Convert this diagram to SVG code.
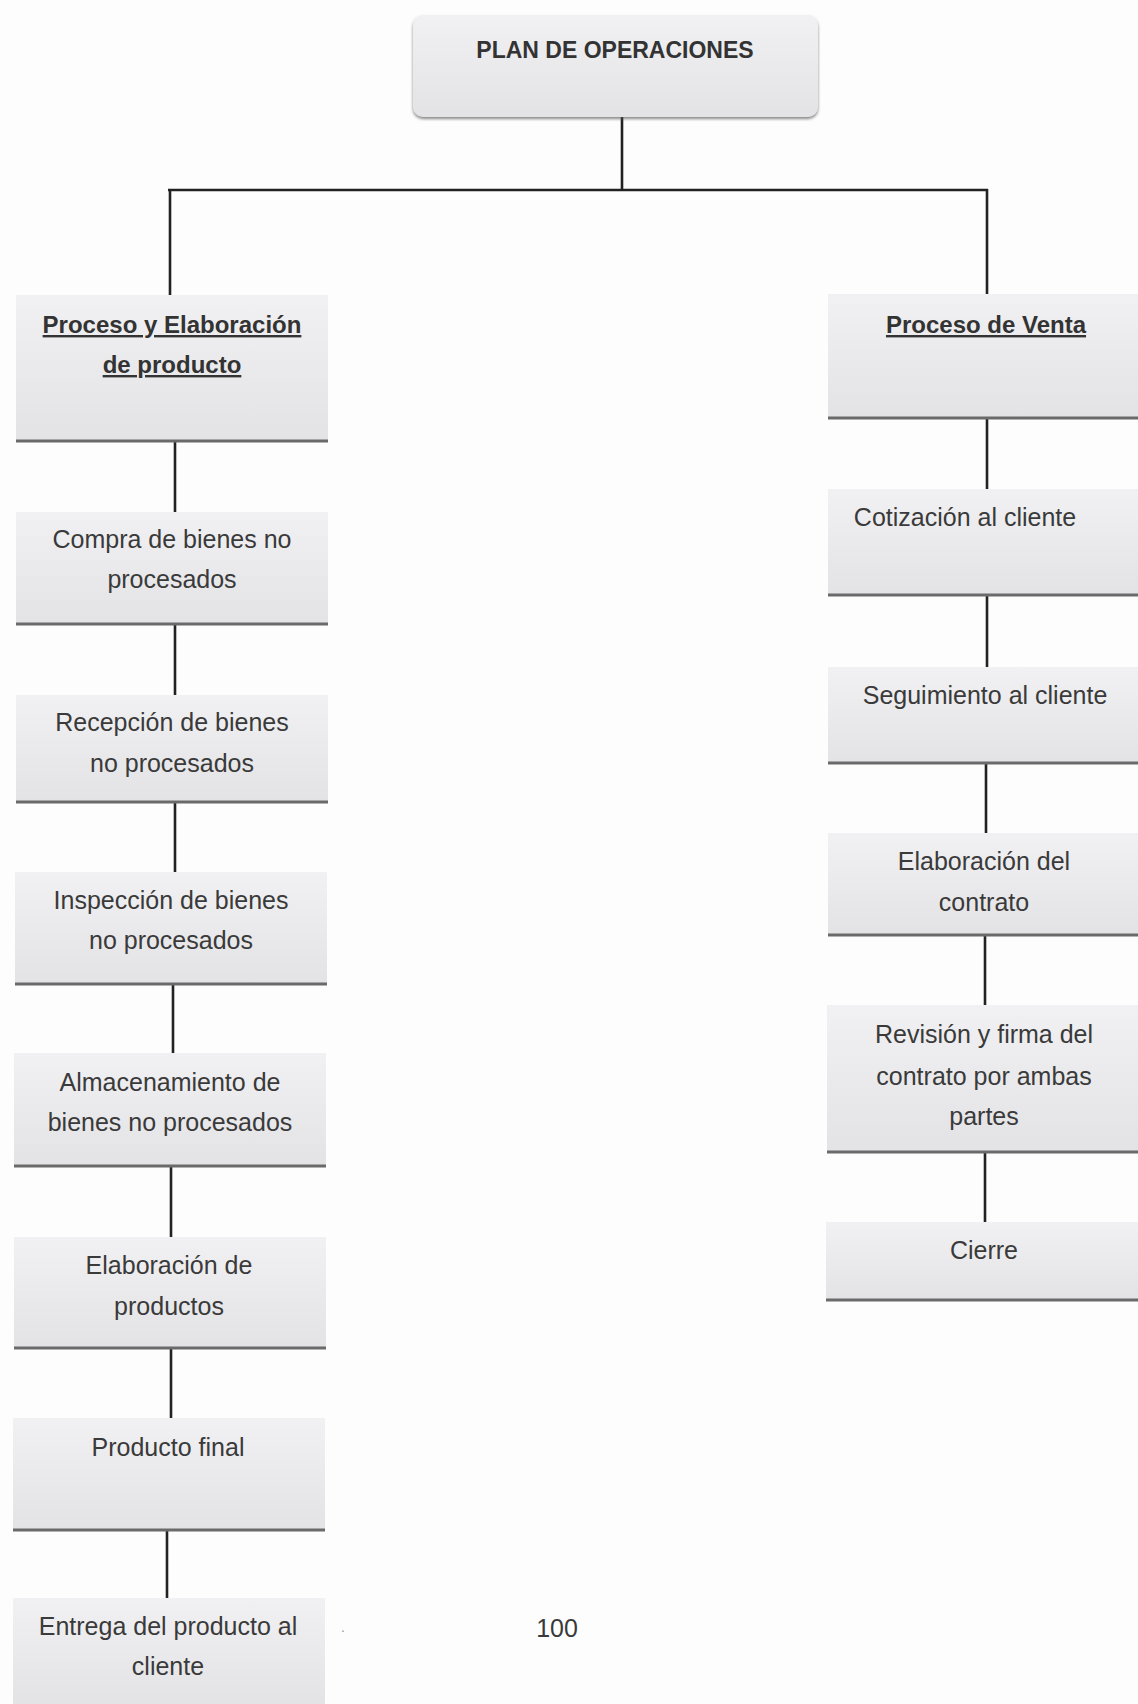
<svg xmlns="http://www.w3.org/2000/svg" width="1138" height="1704" viewBox="0 0 1138 1704">
<defs>
<linearGradient id="g" x1="0" y1="0" x2="0" y2="1">
<stop offset="0" stop-color="#f1f1f3"/>
<stop offset="1" stop-color="#e3e3e6"/>
</linearGradient>
<filter id="sh" x="-5%" y="-5%" width="110%" height="120%">
<feDropShadow dx="0" dy="2" stdDeviation="1.5" flood-color="#555" flood-opacity="0.7"/>
</filter>
</defs>
<style>
.box{fill:url(#g);}
.edge{stroke:#6a6a6a;stroke-width:3;}
.t{font-family:"Liberation Sans",Arial,sans-serif;font-size:25px;fill:#3a3a3a;text-anchor:middle;}
.b{font-family:"Liberation Sans",Arial,sans-serif;font-size:24px;font-weight:bold;fill:#333;text-anchor:middle;text-decoration:underline;}
.c{stroke:#222;stroke-width:2.6;fill:none;}
</style>
<rect width="1138" height="1704" fill="#fdfdfd"/>
<g id="connectors">
<line class="c" x1="622" y1="117" x2="622" y2="190"/>
<line class="c" x1="168" y1="190" x2="988" y2="190"/>
<line class="c" x1="170" y1="189" x2="170" y2="296"/>
<line class="c" x1="987" y1="189" x2="987" y2="294"/>
<line class="c" x1="175" y1="441" x2="175" y2="512"/>
<line class="c" x1="175" y1="624" x2="175" y2="695"/>
<line class="c" x1="175" y1="802" x2="175" y2="872"/>
<line class="c" x1="173" y1="984" x2="173" y2="1053"/>
<line class="c" x1="171" y1="1166" x2="171" y2="1237"/>
<line class="c" x1="171" y1="1348" x2="171" y2="1418"/>
<line class="c" x1="167" y1="1530" x2="167" y2="1598"/>
<line class="c" x1="987" y1="418" x2="987" y2="489"/>
<line class="c" x1="987" y1="595" x2="987" y2="667"/>
<line class="c" x1="986" y1="763" x2="986" y2="833"/>
<line class="c" x1="985" y1="935" x2="985" y2="1005"/>
<line class="c" x1="985" y1="1152" x2="985" y2="1222"/>
</g>
<g id="n-plan">
<rect class="box" x="413" y="15" width="405" height="102" rx="10" filter="url(#sh)"/>
<text class="t" x="615" y="58" style="font-weight:bold;font-size:23px;fill:#333">PLAN DE OPERACIONES</text>
</g>
<g id="n-proceso-elab">
<rect class="box" x="16" y="295" width="312" height="146"/>
<line class="edge" x1="16" y1="441" x2="328" y2="441"/>
<text class="b" x="172" y="333">Proceso y Elaboración</text>
<text class="b" x="172" y="373">de producto</text>
</g>
<g id="n-compra">
<rect class="box" x="16" y="512" width="312" height="112"/>
<line class="edge" x1="16" y1="624" x2="328" y2="624"/>
<text class="t" x="172" y="548">Compra de bienes no</text>
<text class="t" x="172" y="588">procesados</text>
</g>
<g id="n-recepcion">
<rect class="box" x="16" y="695" width="312" height="107"/>
<line class="edge" x1="16" y1="802" x2="328" y2="802"/>
<text class="t" x="172" y="731">Recepción de bienes</text>
<text class="t" x="172" y="772">no procesados</text>
</g>
<g id="n-inspeccion">
<rect class="box" x="15" y="872" width="312" height="112"/>
<line class="edge" x1="15" y1="984" x2="327" y2="984"/>
<text class="t" x="171" y="909">Inspección de bienes</text>
<text class="t" x="171" y="949">no procesados</text>
</g>
<g id="n-almacenamiento">
<rect class="box" x="14" y="1053" width="312" height="113"/>
<line class="edge" x1="14" y1="1166" x2="326" y2="1166"/>
<text class="t" x="170" y="1091">Almacenamiento de</text>
<text class="t" x="170" y="1131">bienes no procesados</text>
</g>
<g id="n-elaboracion-prod">
<rect class="box" x="14" y="1237" width="312" height="111"/>
<line class="edge" x1="14" y1="1348" x2="326" y2="1348"/>
<text class="t" x="169" y="1274">Elaboración de</text>
<text class="t" x="169" y="1315">productos</text>
</g>
<g id="n-producto-final">
<rect class="box" x="13" y="1418" width="312" height="112"/>
<line class="edge" x1="13" y1="1530" x2="325" y2="1530"/>
<text class="t" x="168" y="1456">Producto final</text>
</g>
<g id="n-entrega">
<rect class="box" x="13" y="1598" width="312" height="106"/>
<text class="t" x="168" y="1635">Entrega del producto al</text>
<text class="t" x="168" y="1675">cliente</text>
</g>
<g id="n-proceso-venta">
<rect class="box" x="828" y="294" width="310" height="124"/>
<line class="edge" x1="828" y1="418" x2="1138" y2="418"/>
<text class="b" x="986" y="333">Proceso de Venta</text>
</g>
<g id="n-cotizacion">
<rect class="box" x="828" y="489" width="310" height="106"/>
<line class="edge" x1="828" y1="595" x2="1138" y2="595"/>
<text class="t" x="965" y="526">Cotización al cliente</text>
</g>
<g id="n-seguimiento">
<rect class="box" x="828" y="667" width="310" height="96"/>
<line class="edge" x1="828" y1="763" x2="1138" y2="763"/>
<text class="t" x="985" y="704">Seguimiento al cliente</text>
</g>
<g id="n-elaboracion-contrato">
<rect class="box" x="828" y="833" width="310" height="102"/>
<line class="edge" x1="828" y1="935" x2="1138" y2="935"/>
<text class="t" x="984" y="870">Elaboración del</text>
<text class="t" x="984" y="911">contrato</text>
</g>
<g id="n-revision">
<rect class="box" x="827" y="1005" width="311" height="147"/>
<line class="edge" x1="827" y1="1152" x2="1138" y2="1152"/>
<text class="t" x="984" y="1043">Revisión y firma del</text>
<text class="t" x="984" y="1085">contrato por ambas</text>
<text class="t" x="984" y="1125">partes</text>
</g>
<g id="n-cierre">
<rect class="box" x="826" y="1222" width="312" height="78"/>
<line class="edge" x1="826" y1="1300" x2="1138" y2="1300"/>
<text class="t" x="984" y="1259">Cierre</text>
</g>
<text class="t" x="343" y="1632" style="font-size:14px;fill:#999">.</text>
<text class="t" x="557" y="1637">100</text>
</svg>
